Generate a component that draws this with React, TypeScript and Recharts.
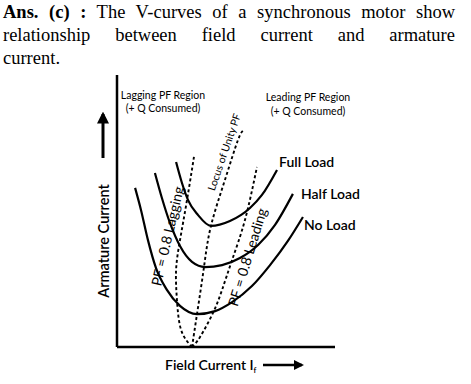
import { ComposedChart, Line, XAxis, YAxis } from "recharts";

// V-curves of a synchronous motor (field current vs armature current, arbitrary units)
const noLoad = [
  { x: 0.83, y: 5.85 }, { x: 1.1, y: 5.04 }, { x: 1.42, y: 3.93 }, { x: 1.79, y: 2.9 },
  { x: 2.29, y: 2.1 }, { x: 2.89, y: 1.51 }, { x: 3.67, y: 1.21 }, { x: 4.5, y: 1.32 },
  { x: 5.28, y: 1.65 }, { x: 6.19, y: 2.24 }, { x: 7.02, y: 3.01 }, { x: 7.84, y: 3.9 },
  { x: 8.53, y: 4.78 },
];
const halfLoad = [
  { x: 1.74, y: 6.4 }, { x: 2.06, y: 5.48 }, { x: 2.43, y: 4.56 }, { x: 2.89, y: 3.71 },
  { x: 3.44, y: 3.13 }, { x: 4.04, y: 2.94 }, { x: 4.82, y: 3.01 }, { x: 5.64, y: 3.27 },
  { x: 6.47, y: 3.75 }, { x: 7.25, y: 4.49 }, { x: 8.07, y: 5.63 },
];
const fullLoad = [
  { x: 2.71, y: 6.8 }, { x: 2.98, y: 6.03 }, { x: 3.26, y: 5.4 }, { x: 3.72, y: 4.85 },
  { x: 4.31, y: 4.45 }, { x: 5.18, y: 4.63 }, { x: 6.1, y: 5.11 }, { x: 6.65, y: 5.59 },
  { x: 7.34, y: 6.51 },
];
// loci (dashed)
const unityPf = [
  { x: 3.44, y: 0 }, { x: 3.67, y: 1.21 }, { x: 3.99, y: 2.94 }, { x: 4.31, y: 4.45 },
  { x: 4.95, y: 6.14 }, { x: 5.55, y: 7.61 }, { x: 5.83, y: 7.98 },
];
const laggingPf = [
  { x: 3.44, y: 0 }, { x: 2.94, y: 0.63 }, { x: 2.75, y: 1.73 }, { x: 2.71, y: 2.83 },
  { x: 2.89, y: 3.93 }, { x: 3.21, y: 5.4 }, { x: 3.53, y: 6.99 },
];
const leadingPf = [
  { x: 3.44, y: 0 }, { x: 3.81, y: 0.37 }, { x: 4.4, y: 1.25 }, { x: 4.82, y: 2.1 },
  { x: 5.28, y: 3.2 }, { x: 5.87, y: 4.67 }, { x: 6.42, y: 6.62 },
];

const FONT = "Lato, 'Open Sans', sans-serif";

export default function App() {
  const solid = { stroke: "#000", strokeWidth: 2.2, dot: false, isAnimationActive: false, fill: "none" } as const;
  const dashed = { ...solid, strokeWidth: 1.9, strokeDasharray: "3 2.5" };

  return (
    <div style={{ position: "absolute", left: 0, top: 0, width: 471, height: 384, background: "#fff" }}>
      <div
        style={{
          position: "absolute", left: 3, top: 1, width: 452,
          fontFamily: "'Liberation Serif', 'Times New Roman', serif", fontSize: 18.5, lineHeight: "23px", color: "#000",
        }}
      >
        <div style={{ textAlign: "justify", textAlignLast: "justify" }}>
          <b>Ans. (c) :</b> The V-curves of a synchronous motor show
        </div>
        <div style={{ textAlign: "justify", textAlignLast: "justify" }}>
          relationship between field current and armature
        </div>
        <div>current.</div>
      </div>

      <ComposedChart
        width={471}
        height={384}
        margin={{ top: 75, right: 136, bottom: 7, left: 87 }}
        style={{ position: "absolute", left: 0, top: 0 }}
      >
        <XAxis type="number" dataKey="x" domain={[0, 10]} height={30} tick={false} tickLine={false}
          axisLine={{ stroke: "#000", strokeWidth: 2.5 }} allowDataOverflow />
        <YAxis type="number" dataKey="y" domain={[0, 10]} width={30} tick={false} tickLine={false}
          axisLine={{ stroke: "#000", strokeWidth: 2.5 }} allowDataOverflow />
        <Line data={noLoad} dataKey="y" type="monotone" {...solid} />
        <Line data={halfLoad} dataKey="y" type="monotone" {...solid} />
        <Line data={fullLoad} dataKey="y" type="monotone" {...solid} />
        <Line data={unityPf} dataKey="y" type="natural" {...dashed} />
        <Line data={laggingPf} dataKey="y" type="natural" {...dashed} />
        <Line data={leadingPf} dataKey="y" type="natural" {...dashed} />
      </ComposedChart>

      <svg width={471} height={384} style={{ position: "absolute", left: 0, top: 0, pointerEvents: "none" }}
        fontFamily={FONT} fill="#000">
        <defs>
          <marker id="ah" viewBox="0 0 10 10" refX="8" refY="5" markerWidth="4" markerHeight="4" orient="auto">
            <path d="M0,0 L10,5 L0,10 z" fill="#000" />
          </marker>
        </defs>
        <text x={163} y={99} fontSize={10.5} textAnchor="middle">Lagging PF Region</text>
        <text x={163} y={112} fontSize={10.5} textAnchor="middle">(+ Q Consumed)</text>
        <text x={308} y={101} fontSize={10.5} textAnchor="middle">Leading PF Region</text>
        <text x={308} y={115} fontSize={10.5} textAnchor="middle">(+ Q Consumed)</text>

        <text x={279} y={167} fontSize={14} fontWeight={600}>Full Load</text>
        <text x={301} y={199} fontSize={14} fontWeight={600}>Half Load</text>
        <text x={304} y={230} fontSize={14} fontWeight={600}>No Load</text>

        <text x={224} y={152} fontSize={10.5} textAnchor="middle" dominantBaseline="central"
          transform="rotate(-71 224 152)">Locus of Unity PF</text>
        <text x={167} y={236} fontSize={14} textAnchor="middle" dominantBaseline="central"
          transform="rotate(-77 167 236)">PF = 0.8 Lagging</text>
        <text x={247} y={257} fontSize={14} textAnchor="middle" dominantBaseline="central"
          transform="rotate(-73 247 257)">PF = 0.8 Leading</text>

        <text x={103} y={241} fontSize={14.5} fontWeight={600} textAnchor="middle" dominantBaseline="central"
          transform="rotate(-90 103 241)">Armature Current</text>
        <line x1={103} y1={158} x2={103} y2={114} stroke="#000" strokeWidth={3} markerEnd="url(#ah)" />

        <text x={165} y={370} fontSize={14} fontWeight={600}>
          Field Current I<tspan fontSize={8} dy={3}>f</tspan>
        </text>
        <line x1={263} y1={365} x2={302} y2={365} stroke="#000" strokeWidth={2.5} markerEnd="url(#ah)" />
      </svg>
    </div>
  );
}
